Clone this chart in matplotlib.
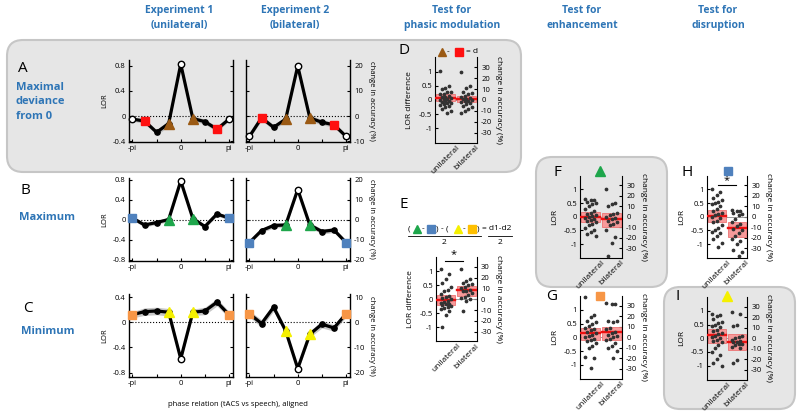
import numpy as np
import matplotlib
matplotlib.use('Agg')
import matplotlib.pyplot as plt
from matplotlib.patches import FancyBboxPatch, Rectangle

plt.rcParams['font.family'] = ['Open Sans', 'DejaVu Sans']

# phase bins (-pi .. pi in steps of pi/4)
phase = np.arange(-4, 5) * np.pi / 4

# LOR per phase bin; A = maximal deviance, B = maximum, C = minimum
lor_A_uni = [-0.05, -0.08, -0.26, -0.12, 0.83, -0.04, -0.09, -0.21, -0.05]
lor_A_bil = [-0.325, -0.03, -0.18, -0.05, 0.80, -0.03, -0.10, -0.14, -0.325]
lor_B_uni = [0.04, -0.10, -0.05, 0.01, 0.78, 0.03, -0.13, 0.12, 0.04]
lor_B_bil = [-0.45, -0.21, -0.11, -0.10, 0.61, -0.10, -0.23, -0.20, -0.45]
lor_C_uni = [0.12, 0.17, 0.18, 0.16, -0.58, 0.16, 0.18, 0.32, 0.12]
lor_C_bil = [0.135, -0.02, 0.24, -0.135, -0.735, -0.19, -0.03, -0.09, 0.135]

err_A_uni = [0.03, 0.04, 0.04, 0.05, 0.04, 0.04, 0.04, 0.04, 0.03]
err_A_bil = [0.03, 0.04, 0.04, 0.04, 0.04, 0.05, 0.04, 0.04, 0.03]
err_B_uni = [0.04, 0.04, 0.04, 0.04, 0.04, 0.04, 0.04, 0.04, 0.04]
err_B_bil = [0.03, 0.04, 0.05, 0.05, 0.04, 0.05, 0.05, 0.05, 0.03]
err_C_uni = [0.05, 0.06, 0.06, 0.06, 0.04, 0.05, 0.06, 0.06, 0.05]
err_C_bil = [0.05, 0.06, 0.06, 0.05, 0.04, 0.05, 0.06, 0.05, 0.05]

# single-subject LOR values (unilateral / bilateral)
D_uni = [1.02, 0.50, 0.42, 0.38, 0.30, 0.28, 0.22, 0.20, 0.15, 0.12, 0.10, 0.08, 0.05, 0.02,
         0.0, -0.02, -0.05, -0.08, -0.10, -0.12, -0.15, -0.18, -0.22, -0.25, -0.30, -0.38, -0.45]
D_bil = [1.0, 0.48, 0.42, 0.30, 0.25, 0.20, 0.15, 0.12, 0.08, 0.05, 0.02, 0.0, -0.02, -0.05,
         -0.08, -0.12, -0.15, -0.20, -0.25, -0.32, -0.40, -0.45]
E_uni = [1.1, 0.9, 0.72, 0.6, 0.45, 0.35, 0.28, 0.2, 0.12, 0.08, 0.05, 0.0, -0.05, -0.08,
         -0.12, -0.15, -0.18, -0.2, -0.25, -0.28, -0.3, -0.35, -0.4, -0.55, -1.0]
E_bil = [1.08, 0.72, 0.65, 0.6, 0.55, 0.5, 0.45, 0.4, 0.35, 0.3, 0.28, 0.22, 0.15, 0.1,
         0.05, 0.0, -0.05, -0.42]
F_uni = [0.65, 0.62, 0.6, 0.55, 0.5, 0.45, 0.4, 0.3, 0.2, 0.15, 0.1, 0.05, 0.02, 0.0, -0.05,
         -0.1, -0.12, -0.15, -0.2, -0.25, -0.3, -0.4, -0.5, -0.55, -0.65, -0.72]
F_bil = [1.0, 0.5, 0.45, 0.4, 0.15, 0.1, 0.05, 0.0, -0.05, -0.1, -0.15, -0.2, -0.25, -0.3,
         -0.5, -0.75, -0.95, -1.45]
G_uni = [1.45, 0.8, 0.72, 0.6, 0.55, 0.5, 0.42, 0.35, 0.3, 0.25, 0.2, 0.15, 0.1, 0.05, 0.0,
         -0.05, -0.1, -0.15, -0.2, -0.3, -0.4, -0.7, -0.75, -1.1]
G_bil = [1.25, 1.2, 1.2, 0.6, 0.58, 0.55, 0.35, 0.3, 0.2, 0.15, 0.1, 0.05, 0.0, -0.05, -0.1,
         -0.2, -0.3, -0.4, -0.5, -0.75]
H_uni = [1.0, 0.92, 0.8, 0.7, 0.6, 0.55, 0.5, 0.45, 0.4, 0.3, 0.2, 0.15, 0.1, 0.05, 0.0,
         -0.05, -0.15, -0.2, -0.3, -0.4, -0.5, -0.55, -0.6, -0.7, -0.8, -0.95, -1.1]
H_bil = [0.25, 0.22, 0.2, 0.15, 0.1, 0.05, -0.1, -0.2, -0.25, -0.35, -0.45, -0.5, -0.6, -0.7,
         -0.8, -0.9, -1.0, -1.2, -1.3, -1.45]
I_uni = [0.88, 0.85, 0.8, 0.7, 0.6, 0.55, 0.5, 0.45, 0.4, 0.3, 0.25, 0.2, 0.15, 0.1, 0.05,
         0.0, -0.05, -0.1, -0.15, -0.25, -0.35, -0.5, -0.6, -0.75, -0.9, -1.0]
I_bil = [0.95, 0.9, 0.5, 0.45, 0.1, 0.05, 0.0, -0.05, -0.1, -0.12, -0.15, -0.2, -0.22, -0.25,
         -0.3, -0.35, -0.8, -0.9]

# group mean and confidence box (low, high): [unilateral, bilateral]
D_mean, D_lo, D_hi = [0.07, 0.03], [-0.05, -0.08], [0.2, 0.15]
E_mean, E_lo, E_hi = [-0.02, 0.33], [-0.2, 0.12], [0.15, 0.48]
F_mean, F_lo, F_hi = [0.0, -0.1], [-0.18, -0.39], [0.16, 0.12]
G_mean, G_lo, G_hi = [0.15, 0.18], [-0.1, -0.1], [0.35, 0.36]
H_mean, H_lo, H_hi = [0.03, -0.43], [-0.18, -0.73], [0.24, -0.18]
I_mean, I_lo, I_hi = [0.12, -0.12], [-0.18, -0.42], [0.32, 0.14]

groups = ['unilateral', 'bilateral']

W, H = 800, 416
BLUE = '#2E75B6'
RED = '#ff1010'
BROWN = '#9b5a14'
SQBLUE = '#4f81bd'
GREEN = '#1ea64b'
ORANGE = '#f79646'
YELLOW = '#f5f000'
GOLD = '#ffc000'
FS = 5.5


def rect(l, t, r, b):
    return [l / W, 1 - b / H, (r - l) / W, (b - t) / H]


fig = plt.figure(figsize=(8, 4.16), dpi=100)
bg = fig.add_axes([0, 0, 1, 1])
bg.set_xlim(0, W)
bg.set_ylim(H, 0)
bg.axis('off')

# grey rounded panels
for l, t, r, b in [(7, 40, 521, 172), (536, 157, 667, 287), (664, 287, 795, 409)]:
    bg.add_patch(FancyBboxPatch((l, t), r - l, b - t, boxstyle='round,pad=0,rounding_size=16',
                                fc='#e6e6e6', ec='#c6c6c6', lw=1.5))


def line_panel(px, y, err, ylim, yticks, rticks, sq_idx, sq_col, tri_col, open_idx, left):
    ax = fig.add_axes(rect(*px))
    ax.set_facecolor('none')
    y = np.array(y)
    err = np.array(err)
    ax.fill_between(phase, y - err, y + err, color='#9a9a9a', alpha=0.55, lw=0, zorder=2)
    ax.axhline(0, color='k', ls=':', lw=0.8, zorder=1)
    ax.plot(phase, y, color='k', lw=2.3, marker='o', ms=3.8, zorder=3, clip_on=False)
    ax.plot(phase[open_idx], y[open_idx], 'o', ms=4.6, mfc='white', mec='k', mew=1.0,
            zorder=4, clip_on=False)
    ax.plot(phase[sq_idx], y[sq_idx], 's', ms=6, color=sq_col, zorder=4, clip_on=False)
    ax.plot(phase[[3, 5]], y[[3, 5]], '^', ms=6.5, color=tri_col, zorder=4, clip_on=False)
    ax.set_xlim(-3.4, 3.4)
    ax.set_ylim(*ylim)
    ax.set_xticks([-np.pi, -np.pi / 2, 0, np.pi / 2, np.pi])
    ax.set_xticklabels(['-pi', '', '0', '', 'pi'])
    ax.set_yticks(yticks)
    ax.set_yticklabels(['%g' % v for v in yticks])
    ax.spines['top'].set_visible(False)
    for s in ax.spines.values():
        s.set_linewidth(1.0)
    ax.tick_params(direction='in', length=2.5, labelsize=FS, pad=2, width=0.8)
    if left:
        ax.tick_params(axis='y', right=True, labelright=False)
        ax.set_ylabel('LOR', fontsize=FS, labelpad=3)
    else:
        ax.tick_params(axis='y', labelleft=False)
        ax.spines['right'].set_visible(False)
        sec = ax.secondary_yaxis('right', functions=(lambda v: v * 25, lambda v: v / 25))
        sec.set_yticks(rticks)
        sec.set_yticklabels(['%g' % v for v in rticks])
        sec.tick_params(direction='in', length=2.5, labelsize=FS, pad=3, width=0.8)
        sec.spines['right'].set_linewidth(1.0)
        sec.set_ylabel('change in accuracy (%)', rotation=270, fontsize=FS, labelpad=7)
    return ax


def strip_panel(px, uni, bil, mean, lo, hi, ylabel, sig=None):
    ax = fig.add_axes(rect(*px))
    ax.set_facecolor('none')
    ax.axhline(0, color='#8c8c8c', lw=0.6, zorder=1)
    for k, (vals, m, a, b) in enumerate(zip([uni, bil], mean, lo, hi)):
        xc = k + 1
        ax.add_patch(Rectangle((xc - 0.45, a), 0.9, b - a, fc='#f69a9a', ec='#ec7373',
                               lw=0.6, zorder=2))
        ax.plot([xc - 0.45, xc + 0.45], [m, m], color='#ee1010', lw=1.7, zorder=3)
        n = len(vals)
        jit = ((np.arange(n) * 5) % 7 - 3) * 0.085
        ax.plot(xc + jit, vals, 'o', ms=1.7, color='#333333', zorder=4, clip_on=False)
    ax.set_xlim(0.5, 2.5)
    ax.set_ylim(-1.5, 1.5)
    ax.set_yticks([-1, -0.5, 0, 0.5, 1])
    ax.set_yticklabels(['-1', '-0.5', '0', '0.5', '1'])
    ax.set_xticks([1, 2])
    ax.set_xticklabels(groups, rotation=45, ha='center', va='top')
    ax.spines['top'].set_visible(False)
    ax.spines['right'].set_visible(False)
    ax.tick_params(direction='in', length=2, labelsize=FS, pad=2, width=0.8)
    ax.tick_params(axis='x', length=0, labelsize=6, pad=1)
    ax.set_ylabel(ylabel, fontsize=6, labelpad=4)
    sec = ax.secondary_yaxis('right', functions=(lambda v: v * 26, lambda v: v / 26))
    rt = [-30, -20, -10, 0, 10, 20, 30]
    sec.set_yticks(rt)
    sec.set_yticklabels(['%g' % v for v in rt])
    sec.tick_params(direction='in', length=2, labelsize=FS, pad=3, width=0.8)
    sec.set_ylabel('change in accuracy (%)', rotation=270, fontsize=6, labelpad=7)
    if sig is not None:
        x0, x1, yl, ys = sig
        ax.plot([x0, x1], [yl, yl], color='k', lw=0.8, clip_on=False)
        ax.text((x0 + x1) / 2, ys, '*', ha='center', va='center', fontsize=8)
    return ax


# rows A-C: phase-resolved LOR
line_panel((128.5, 59.7, 233, 142.3), lor_A_uni, err_A_uni, (-0.42, 0.9), [-0.4, 0, 0.4, 0.8],
           None, [1, 7], RED, BROWN, [0, 4, 8], True)
line_panel((245.5, 59.7, 350, 142.3), lor_A_bil, err_A_bil, (-0.42, 0.9), [-0.4, 0, 0.4, 0.8],
           [-10, 0, 10, 20], [1, 7], RED, BROWN, [0, 4, 8], False)
line_panel((128.5, 177.5, 233, 261), lor_B_uni, err_B_uni, (-0.82, 0.85),
           [-0.8, -0.4, 0, 0.4, 0.8], None, [0, 8], SQBLUE, GREEN, [4], True)
line_panel((245.5, 177.5, 350, 261), lor_B_bil, err_B_bil, (-0.82, 0.85),
           [-0.8, -0.4, 0, 0.4, 0.8], [-20, -10, 0, 10, 20], [0, 8], SQBLUE, GREEN, [4], False)
line_panel((128.5, 294, 233, 377), lor_C_uni, err_C_uni, (-0.87, 0.45), [-0.8, -0.4, 0, 0.4],
           None, [0, 8], ORANGE, YELLOW, [4], True)
line_panel((245.5, 294, 350, 377), lor_C_bil, err_C_bil, (-0.87, 0.45), [-0.8, -0.4, 0, 0.4],
           [-20, -10, 0, 10], [0, 8], ORANGE, YELLOW, [4], False)

# D-I: group comparisons
strip_panel((435, 57.5, 477, 142.5), D_uni, D_bil, D_mean, D_lo, D_hi, 'LOR difference')
strip_panel((435.7, 257.3, 476.7, 341.3), E_uni, E_bil, E_mean, E_lo, E_hi, 'LOR difference',
            sig=(0.95, 1.83, 1.38, 1.6))
strip_panel((580, 175.7, 622, 257.7), F_uni, F_bil, F_mean, F_lo, F_hi, 'LOR')
strip_panel((706.7, 175.7, 747, 257.7), H_uni, H_bil, H_mean, H_lo, H_hi, 'LOR',
            sig=(1.06, 1.95, 1.16, 1.33))
strip_panel((580, 296, 622, 378.5), G_uni, G_bil, G_mean, G_lo, G_hi, 'LOR')
strip_panel((706.7, 297, 747, 379.5), I_uni, I_bil, I_mean, I_lo, I_hi, 'LOR')

# column titles
tkw = dict(color=BLUE, fontsize=7.5, fontweight='bold', ha='center', va='center', linespacing=1.5)
bg.text(179, 18, 'Experiment 1\n(unilateral)', **tkw)
bg.text(295, 18, 'Experiment 2\n(bilateral)', **tkw)
bg.text(452, 18, 'Test for\nphasic modulation', **tkw)
bg.text(582, 18, 'Test for\nenhancement', **tkw)
bg.text(718, 18, 'Test for\ndisruption', **tkw)

# row labels
rkw = dict(color=BLUE, fontsize=8, fontweight='bold', ha='left', va='center', linespacing=1.45)
bg.text(16, 102, 'Maximal\ndeviance\nfrom 0', **rkw)
bg.text(19, 217, 'Maximum', **rkw)
bg.text(21, 332, 'Minimum', **rkw)

# panel letters
for letter, x, y in [('A', 23, 68), ('B', 25, 190), ('C', 28, 308), ('D', 404, 50),
                     ('E', 404, 204), ('F', 557, 173), ('G', 552, 296), ('H', 687, 173),
                     ('I', 678, 297)]:
    bg.text(x, y, letter, fontsize=11, ha='center', va='center', color='k')

bg.text(238, 405, 'phase relation (tACS vs speech), aligned', fontsize=FS, ha='center',
        va='center')

# D header: triangle - square = d
bg.plot(441.7, 51.5, '^', ms=6, color=BROWN)
bg.text(448.5, 51.5, '-', fontsize=6, ha='center', va='center')
bg.plot(459, 51.5, 's', ms=5.5, color=RED)
bg.text(466, 51.5, '= d', fontsize=6, ha='left', va='center')

# E header: ((tri - sq) - (tri - sq)) / 2 = (d1-d2) / 2
ey = 229
for x, s in [(409, '('), (423, '-'), (437, ')'), (442, '-'), (447, '('), (464, '-'), (478, ')')]:
    bg.text(x, ey, s, fontsize=6, ha='center', va='center')
bg.plot(416.5, ey, '^', ms=6, color=GREEN)
bg.plot(430.5, ey, 's', ms=5.5, color=SQBLUE)
bg.plot(457.5, ey, '^', ms=6, color=YELLOW)
bg.plot(471.5, ey, 's', ms=5.5, color=GOLD)
bg.text(481.5, ey, '= d1-d2', fontsize=6, ha='left', va='center')
bg.plot([408, 481], [235.5, 235.5], color='k', lw=0.6)
bg.plot([488, 512], [235.5, 235.5], color='k', lw=0.6)
bg.text(444.5, 242, '2', fontsize=6, ha='center', va='center')
bg.text(500, 242, '2', fontsize=6, ha='center', va='center')

# F-I header symbols
bg.plot(600, 171, '^', ms=6.5, color=GREEN)
bg.plot(728, 171, 's', ms=6, color=SQBLUE)
bg.plot(600, 296, 's', ms=6, color=ORANGE)
bg.plot(726.7, 296, '^', ms=6.5, color=YELLOW)

fig.savefig('out.png', dpi=100)
